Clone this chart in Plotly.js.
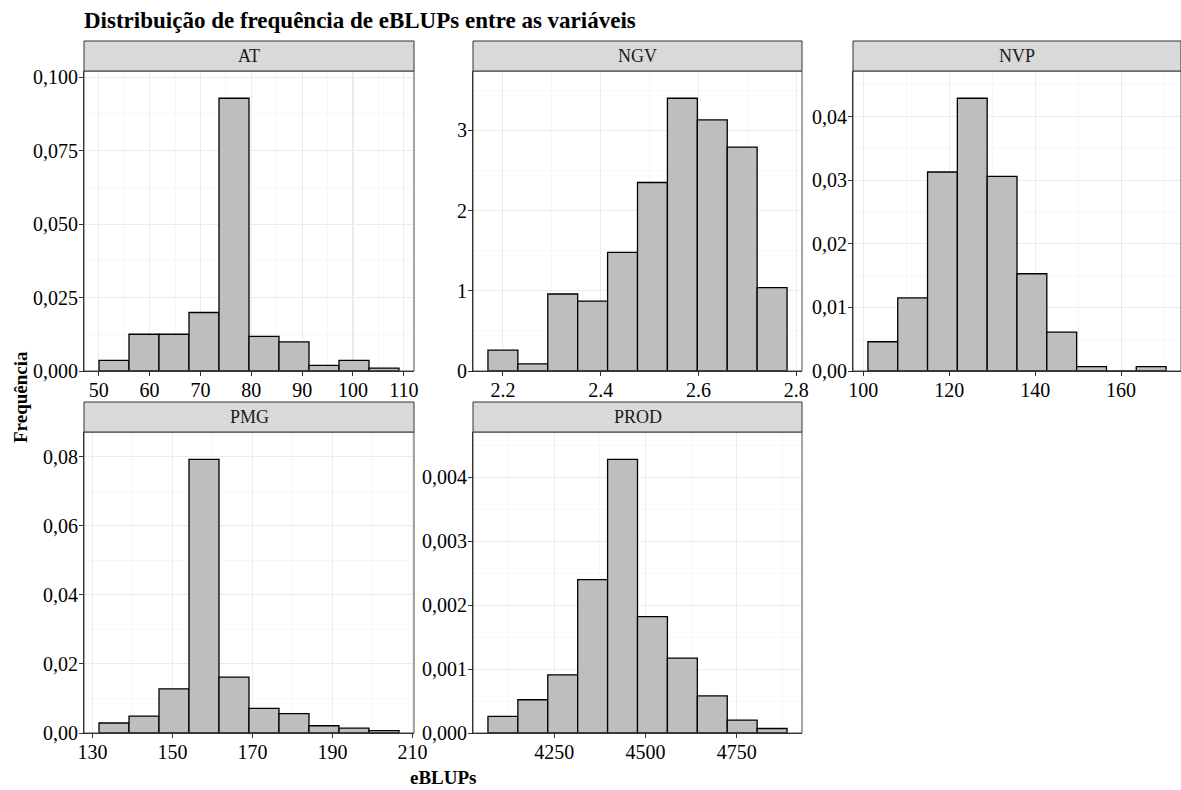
<!DOCTYPE html>
<html>
<head>
<meta charset="utf-8">
<script src="https://cdn.plot.ly/plotly-3.0.1.min.js"></script>
<style>html,body{margin:0;padding:0;background:#fff;}#chart{width:1181px;height:790px;}</style>
</head>
<body>
<div id="chart"></div>
<script>
// ---- Data ----
const panels = ["AT", "NGV", "NVP", "PMG", "PROD"];

const AT_binStart = 50.05, AT_binWidth = 5.9;
const AT_density = [0.0036, 0.0125, 0.0125, 0.0199, 0.0928, 0.0118, 0.0099, 0.0019, 0.0036, 0.0010];

const NGV_binStart = 2.1694, NGV_binWidth = 0.0612;
const NGV_density = [0.26, 0.09, 0.96, 0.87, 1.48, 2.35, 3.40, 3.13, 2.79, 1.04];

const NVP_binStart = 101.07, NVP_binWidth = 6.94;
const NVP_density = [0.0046, 0.0115, 0.0313, 0.0429, 0.0306, 0.0153, 0.0061, 0.0007, 0, 0.0007];

const PMG_binStart = 131.6, PMG_binWidth = 7.5;
const PMG_density = [0.0029, 0.0049, 0.0128, 0.0792, 0.0162, 0.0071, 0.0056, 0.0021, 0.0014, 0.0007];

const PROD_binStart = 4068, PROD_binWidth = 82;
const PROD_density = [0.00026, 0.00052, 0.00091, 0.0024, 0.00428, 0.00182, 0.00117, 0.00058, 0.0002, 0.00007];

// x tick values (x labels use a dot as decimal mark, as in the reference)
const xTickVals = [
  [50, 60, 70, 80, 90, 100, 110],
  [2.2, 2.4, 2.6, 2.8],
  [100, 120, 140, 160],
  [130, 150, 170, 190, 210],
  [4250, 4500, 4750]
];
const xTickDecimals = [0, 1, 0, 0, 0];
const yTickStep = [0.025, 1, 0.01, 0.02, 0.001];
const yTickFormat = [".3f", "d", ".2f", ".2f", ".3f"];

const titleText = "Distribuição de frequência de eBLUPs entre as variáveis";
const xTitle = "eBLUPs";
const yTitle = "Frequência";

// ---- Layout geometry (pixels) ----
const W = 1181, H = 790;
const colPx = [[84, 414], [473, 802], [853, 1181]];
const rowPx = [[71, 371], [432, 733]];
const stripPx = 30;
const cells = [[0,0],[0,1],[0,2],[1,0],[1,1]];

const series = [
  [AT_binStart, AT_binWidth, AT_density],
  [NGV_binStart, NGV_binWidth, NGV_density],
  [NVP_binStart, NVP_binWidth, NVP_density],
  [PMG_binStart, PMG_binWidth, PMG_density],
  [PROD_binStart, PROD_binWidth, PROD_density]
];

const FONT = "'Liberation Serif', 'Times New Roman', serif";
const traces = [];
const layout = {
  width: W, height: H,
  margin: {l: 0, r: 0, t: 0, b: 0},
  paper_bgcolor: "#ffffff",
  plot_bgcolor: "#ffffff",
  separators: ",.",
  showlegend: false,
  bargap: 0,
  font: {family: FONT, color: "#000"},
  title: {
    text: "<b>" + titleText + "</b>",
    font: {family: FONT, size: 23, color: "#000"},
    xref: "container", yref: "container",
    x: 84 / W, xanchor: "left",
    y: 1 - 20 / H, yanchor: "middle"
  },
  shapes: [],
  annotations: []
};

panels.forEach((name, i) => {
  const [start, width, dens] = series[i];
  const n = dens.length;
  const centers = dens.map((_, k) => start + (k + 0.5) * width);
  const xs = i === 0 ? "" : String(i + 1);
  traces.push({
    type: "bar",
    x: centers,
    y: dens,
    width: dens.map(() => width),
    xaxis: "x" + xs, yaxis: "y" + xs,
    marker: {color: "#bebebe", line: {color: "#000000", width: 1.3}},
    hoverinfo: "skip"
  });
  const span = n * width;
  const xr = [start - 0.05 * span, start + span + 0.05 * span];
  const ymax = Math.max(...dens) * 1.1;
  const [r, c] = cells[i];
  const xd = [colPx[c][0] / W, Math.min(colPx[c][1], W) / W];
  const yd = [1 - rowPx[r][1] / H, 1 - rowPx[r][0] / H];
  const common = {
    showline: true, linecolor: "#1a1a1a", linewidth: 1,
    ticks: "outside", ticklen: 4, tickwidth: 1, tickcolor: "#333333",
    tickfont: {family: FONT, size: 20, color: "#000"},
    ticklabelstandoff: -3,
    showgrid: true, gridcolor: "#ebebeb", gridwidth: 1.1,
    zeroline: false, fixedrange: true
  };
  const tv = xTickVals[i];
  const xStep = tv[1] - tv[0];
  layout["xaxis" + xs] = Object.assign({}, common, {
    domain: xd, range: xr, anchor: "y" + xs,
    tickmode: "array", tickvals: tv, ticktext: tv.map(v => v.toFixed(xTickDecimals[i])),
    minor: {tick0: tv[0], dtick: xStep / 2, showgrid: true, gridcolor: "#f2f2f2", gridwidth: 0.6, ticklen: 0}
  });
  layout["yaxis" + xs] = Object.assign({}, common, {
    domain: yd, range: [0, ymax], anchor: "x" + xs,
    tick0: 0, dtick: yTickStep[i], tickformat: yTickFormat[i],
    minor: {tick0: 0, dtick: yTickStep[i] / 2, showgrid: true, gridcolor: "#f2f2f2", gridwidth: 0.6, ticklen: 0}
  });
  // panel border
  layout.shapes.push({
    type: "rect", xref: "x" + xs + " domain", yref: "y" + xs + " domain",
    x0: 0, x1: 1, y0: 0, y1: 1, line: {color: "#4d4d4d", width: 1}, fillcolor: "rgba(0,0,0,0)", layer: "above"
  });
  // strip
  const plotH = rowPx[r][1] - rowPx[r][0];
  const sH = stripPx / plotH;
  layout.shapes.push({
    type: "rect", xref: "x" + xs + " domain", yref: "y" + xs + " domain",
    x0: 0, x1: 1, y0: 1, y1: 1 + sH, line: {color: "#333333", width: 1}, fillcolor: "#d9d9d9", layer: "above"
  });
  layout.annotations.push({
    text: name, xref: "x" + xs + " domain", yref: "y" + xs + " domain",
    x: 0.5, y: 1 + sH / 2, xanchor: "center", yanchor: "middle", showarrow: false,
    font: {family: FONT, size: 18, color: "#1a1a1a"}
  });
});

layout.annotations.push({
  text: "<b>" + yTitle + "</b>", xref: "paper", yref: "paper",
  x: 20 / W, y: 1 - 397 / H, textangle: -90, showarrow: false,
  xanchor: "center", yanchor: "middle",
  font: {family: FONT, size: 19, color: "#000"}
});
layout.annotations.push({
  text: "<b>" + xTitle + "</b>", xref: "paper", yref: "paper",
  x: 443 / W, y: 1 - 777 / H, showarrow: false,
  xanchor: "center", yanchor: "middle",
  font: {family: FONT, size: 19, color: "#000"}
});

Plotly.newPlot("chart", traces, layout, {staticPlot: true, displayModeBar: false});
</script>
</body>
</html>
